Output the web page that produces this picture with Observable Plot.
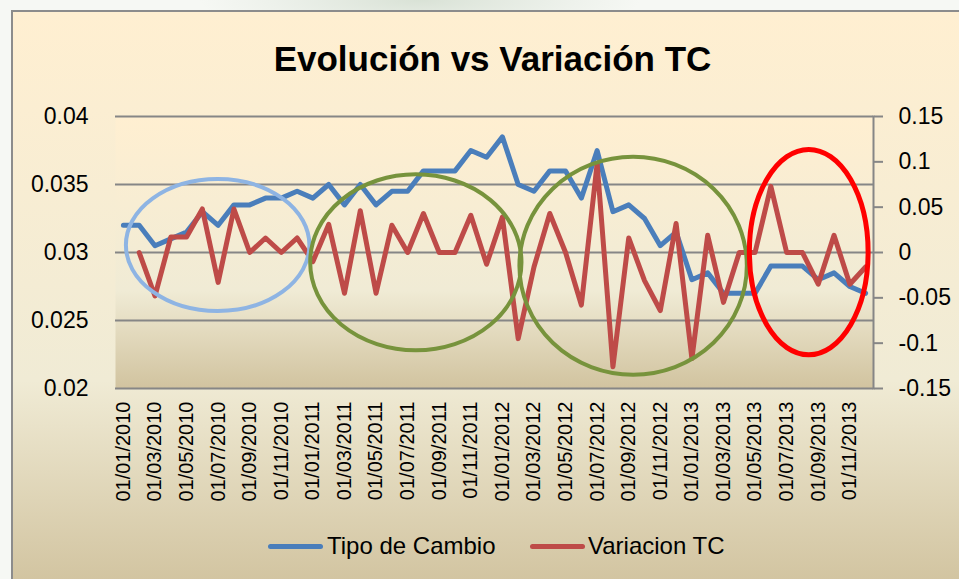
<!DOCTYPE html>
<html>
<head>
<meta charset="utf-8">
<script src="https://cdn.jsdelivr.net/npm/d3@7"></script>
<script src="https://cdn.jsdelivr.net/npm/@observablehq/plot@0.6"></script>
<style>
  html, body { margin: 0; padding: 0; }
  body { width: 959px; height: 579px; overflow: hidden; position: relative;
         background: radial-gradient(ellipse 220px 40px at 420px 0px, #d9e2d6 0%, #eef2ec 70%, #f6f8f4 100%);
         font-family: "Liberation Sans", Arial, sans-serif; }
  #frame { position: absolute; left: 11px; top: 10px; width: 960px; height: 580px;
           border: 2px solid #8c8c8c; box-sizing: border-box;
           background: linear-gradient(to bottom, #FFEFD1 0%, #F0EBD5 64%, #D1C39F 100%); }
  #chart { position: absolute; left: 0; top: 0; }
  #title { position: absolute; left: 0; top: 41px; width: 985px; text-align: center;
           font-family: "Liberation Sans", Arial, sans-serif; font-weight: bold; font-size: 35px;
           line-height: 35px; color: #000; }
  .sw { position: absolute; height: 5px; border-radius: 3px; }
  .lt { position: absolute; font-size: 24px; line-height: 24px; color: #000; white-space: nowrap; }
</style>
</head>
<body>
<div id="frame"></div>
<div id="chart"></div>
<div id="title">Evolución vs Variación TC</div>
<div class="sw" style="left:268px; top:544px; width:55px; background:#4A7EBB"></div>
<div class="lt" style="left:327px; top:534px;">Tipo de Cambio</div>
<div class="sw" style="left:530px; top:544px; width:55px; background:#BE4B48"></div>
<div class="lt" style="left:588px; top:534px;">Variacion TC</div>
<script>
// ---- Data ----
const dates = [
  "01/01/2010","01/02/2010","01/03/2010","01/04/2010","01/05/2010","01/06/2010",
  "01/07/2010","01/08/2010","01/09/2010","01/10/2010","01/11/2010","01/12/2010",
  "01/01/2011","01/02/2011","01/03/2011","01/04/2011","01/05/2011","01/06/2011",
  "01/07/2011","01/08/2011","01/09/2011","01/10/2011","01/11/2011","01/12/2011",
  "01/01/2012","01/02/2012","01/03/2012","01/04/2012","01/05/2012","01/06/2012",
  "01/07/2012","01/08/2012","01/09/2012","01/10/2012","01/11/2012","01/12/2012",
  "01/01/2013","01/02/2013","01/03/2013","01/04/2013","01/05/2013","01/06/2013",
  "01/07/2013","01/08/2013","01/09/2013","01/10/2013","01/11/2013","01/12/2013"
];
const tipoCambio = [
  0.032, 0.032, 0.0305, 0.031, 0.0315, 0.033, 0.032, 0.0335, 0.0335, 0.034, 0.034, 0.0345,
  0.034, 0.035, 0.0335, 0.035, 0.0335, 0.0345, 0.0345, 0.036, 0.036, 0.036, 0.0375, 0.037,
  0.0385, 0.035, 0.0345, 0.036, 0.036, 0.034, 0.0375, 0.033, 0.0335, 0.0325, 0.0305, 0.0315,
  0.028, 0.0285, 0.027, 0.027, 0.027, 0.029, 0.029, 0.029, 0.028, 0.0285, 0.0275, 0.027
];
const variacionTC = [
  null, 0, -0.048, 0.017, 0.017, 0.048, -0.033, 0.048, 0, 0.016, 0, 0.016,
  -0.01, 0.031, -0.045, 0.046, -0.045, 0.030, 0, 0.043, 0, 0, 0.041, -0.013,
  0.039, -0.095, -0.016, 0.043, 0, -0.058, 0.098, -0.126, 0.016, -0.031, -0.064, 0.032,
  -0.117, 0.019, -0.055, 0, 0, 0.073, 0, 0, -0.035, 0.019, -0.035, -0.016
];
const xTickLabels = [
  "01/01/2010","01/03/2010","01/05/2010","01/07/2010","01/09/2010","01/11/2010",
  "01/01/2011","01/03/2011","01/05/2011","01/07/2011","01/09/2011","01/11/2011",
  "01/01/2012","01/03/2012","01/05/2012","01/07/2012","01/09/2012","01/11/2012",
  "01/01/2013","01/03/2013","01/05/2013","01/07/2013","01/09/2013","01/11/2013"
];
const leftTicks = [0.02, 0.025, 0.03, 0.035, 0.04];
const leftTickLabels = ["0.02", "0.025", "0.03", "0.035", "0.04"];
const rightTicks = [-0.15, -0.1, -0.05, 0, 0.05, 0.1, 0.15];
const rightTickLabels = ["-0.15", "-0.1", "-0.05", "0", "0.05", "0.1", "0.15"];

// Annotation ellipses (center in month index / left-axis value, radii in months / left-axis units)
const ellipseCenterMonth = [6.0, 18.55, 32.31, 43.43];
const ellipseCenterValue = [0.03051, 0.02924, 0.02899, 0.02999];
const ellipseRadiusMonths = [5.81, 6.69, 7.2, 3.76];
const ellipseRadiusValue = [0.00485, 0.00647, 0.00801, 0.00755];
const ellipseColors = ["#8EB4E3", "#77933C", "#77933C", "#FF0000"];
const ellipseWidths = [4, 4, 4, 5];

// ---- Dual axis mapping: right axis [-0.15, 0.15] onto left [0.02, 0.04] ----
const toLeft = v => 0.03 + v * (0.01 / 0.15);

const idx = d3.range(dates.length);
const svgNS = "http://www.w3.org/2000/svg";

function gradientDefs() {
  const defs = document.createElementNS(svgNS, "defs");
  const lg = document.createElementNS(svgNS, "linearGradient");
  lg.setAttribute("id", "parchPlot");
  lg.setAttribute("x1", "0"); lg.setAttribute("y1", "0");
  lg.setAttribute("x2", "0"); lg.setAttribute("y2", "1");
  [["0%", "#FFEFD1"], ["64%", "#F0EBD5"], ["100%", "#D1C39F"]].forEach(([o, c]) => {
    const s = document.createElementNS(svgNS, "stop");
    s.setAttribute("offset", o); s.setAttribute("stop-color", c);
    lg.appendChild(s);
  });
  defs.appendChild(lg);
  return defs;
}

function ellipsesMark(index, scales) {
  const g = document.createElementNS(svgNS, "g");
  const x0 = scales.x(dates[0]);
  const step = scales.x(dates[1]) - x0;
  ellipseCenterMonth.forEach((m, i) => {
    const e = document.createElementNS(svgNS, "ellipse");
    const cy = scales.y(ellipseCenterValue[i]);
    e.setAttribute("cx", x0 + m * step);
    e.setAttribute("cy", cy);
    e.setAttribute("rx", ellipseRadiusMonths[i] * step);
    e.setAttribute("ry", Math.abs(scales.y(ellipseCenterValue[i] + ellipseRadiusValue[i]) - cy));
    e.setAttribute("fill", "none");
    e.setAttribute("stroke", ellipseColors[i]);
    e.setAttribute("stroke-width", ellipseWidths[i]);
    g.appendChild(e);
  });
  return g;
}

const chart = Plot.plot({
  width: 959,
  height: 579,
  marginLeft: 115,
  marginRight: 86,
  marginTop: 116,
  marginBottom: 191,
  style: { background: "transparent", overflow: "visible" },
  x: { type: "point", domain: dates, padding: 0.5, axis: null },
  y: { domain: [0.02, 0.04], axis: null },
  marks: [
    gradientDefs,
    Plot.frame({ fill: "url(#parchPlot)", stroke: "none" }),
    Plot.gridY(leftTicks, { stroke: "#868686", strokeOpacity: 1, strokeWidth: 2 }),
    Plot.axisY(leftTicks, {
      anchor: "left", tickSize: 0, tickPadding: 27,
      tickFormat: d => leftTickLabels[leftTicks.indexOf(d)],
      fontSize: 23, fontFamily: "Liberation Sans, Arial, sans-serif", fill: "#000"
    }),
    Plot.axisY(rightTicks.map(toLeft), {
      anchor: "right", tickSize: 9, tickPadding: 16, stroke: "#868686", strokeWidth: 2,
      tickFormat: (d, i) => rightTickLabels[i],
      fontSize: 23, fontFamily: "Liberation Sans, Arial, sans-serif", fill: "#000"
    }),
    Plot.frame({ anchor: "right", stroke: "#868686", strokeWidth: 2 }),
    Plot.axisX(xTickLabels, {
      anchor: "bottom", tickSize: 0, tickPadding: 13, tickRotate: -90,
      fontSize: 20, fontFamily: "Liberation Sans, Arial, sans-serif", fill: "#000"
    }),
    Plot.line(idx, {
      x: i => dates[i], y: i => tipoCambio[i],
      stroke: "#4A7EBB", strokeWidth: 5, strokeLinejoin: "round", strokeLinecap: "round"
    }),
    Plot.line(idx, {
      x: i => dates[i], y: i => variacionTC[i] == null ? NaN : toLeft(variacionTC[i]),
      stroke: "#BE4B48", strokeWidth: 5, strokeLinejoin: "round", strokeLinecap: "round"
    }),
    ellipsesMark
  ]
});
document.getElementById("chart").appendChild(chart);
</script>
</body>
</html>
